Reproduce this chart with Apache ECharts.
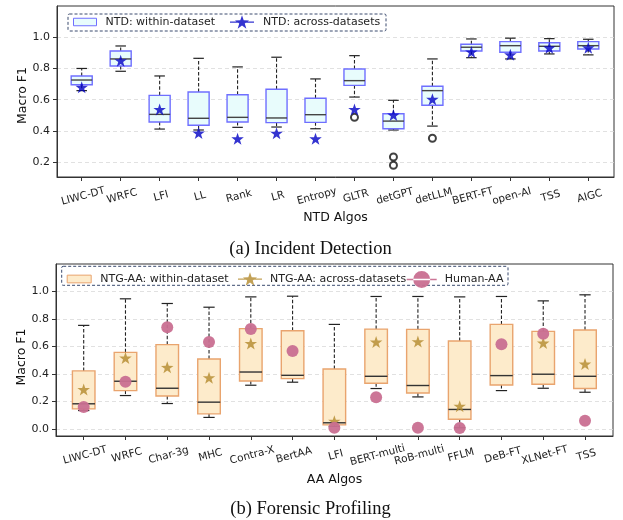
<!DOCTYPE html>
<html>
<head>
<meta charset="utf-8">
<script src="https://cdn.jsdelivr.net/npm/echarts@6/dist/echarts.min.js"></script>
<style>
html,body{margin:0;padding:0;background:#fff;}
#chart{width:623px;height:520px;}
</style>
</head>
<body>
<div id="chart"></div>
<script>
// ---------- data: (a) Incident Detection ----------
const ntdCategories = ['LIWC-DT','WRFC','LFI','LL','Rank','LR','Entropy','GLTR','detGPT','detLLM','BERT-FT','open-AI','TSS','AIGC'];
// [lower whisker, Q1, median, Q3, upper whisker]
const ntdBoxes = [
  [0.658, 0.696, 0.726, 0.752, 0.800],
  [0.782, 0.816, 0.861, 0.912, 0.944],
  [0.412, 0.457, 0.506, 0.628, 0.752],
  [0.406, 0.436, 0.481, 0.649, 0.865],
  [0.423, 0.457, 0.487, 0.632, 0.810],
  [0.425, 0.453, 0.483, 0.667, 0.872],
  [0.414, 0.455, 0.504, 0.609, 0.733],
  [0.617, 0.692, 0.722, 0.797, 0.882],
  [0.406, 0.414, 0.463, 0.510, 0.596],
  [0.431, 0.564, 0.658, 0.686, 0.861],
  [0.869, 0.912, 0.936, 0.955, 0.989],
  [0.861, 0.904, 0.946, 0.972, 0.994],
  [0.893, 0.912, 0.942, 0.965, 0.991],
  [0.887, 0.925, 0.946, 0.972, 0.987]
];
const ntdAcross = [0.680, 0.850, 0.538, 0.387, 0.350, 0.385, 0.350, 0.538, 0.502, 0.603, 0.906, 0.888, 0.933, 0.933];
const ntdOutliers = [['GLTR', 0.487], ['detGPT', 0.233], ['detGPT', 0.180], ['detLLM', 0.353]];
const ntdYTicks = [0.2, 0.4, 0.6, 0.8, 1.0];

// ---------- data: (b) Forensic Profiling ----------
const aaCategories = ['LIWC-DT','WRFC','Char-3g','MHC','Contra-X','BertAA','LFI','BERT-multi','RoB-multi','FFLM','DeB-FT','XLNet-FT','TSS'];
const aaBoxes = [
  [0.135, 0.147, 0.184, 0.423, 0.754],
  [0.244, 0.280, 0.348, 0.558, 0.947],
  [0.186, 0.241, 0.297, 0.614, 0.913],
  [0.085, 0.111, 0.196, 0.510, 0.886],
  [0.319, 0.350, 0.415, 0.730, 0.961],
  [0.341, 0.367, 0.391, 0.715, 0.966],
  [0.020, 0.031, 0.046, 0.437, 0.761],
  [0.295, 0.333, 0.384, 0.727, 0.964],
  [0.234, 0.263, 0.317, 0.725, 0.964],
  [0.010, 0.072, 0.143, 0.640, 0.961],
  [0.280, 0.321, 0.389, 0.761, 0.964],
  [0.297, 0.326, 0.399, 0.710, 0.932],
  [0.268, 0.295, 0.384, 0.720, 0.976]
];
const aaAcross = [0.288, 0.517, 0.449, 0.374, 0.623, null, 0.058, 0.633, 0.636, 0.167, null, 0.626, 0.473];
const humanAA = [0.160, 0.345, 0.741, 0.633, 0.727, 0.568, 0.010, 0.232, 0.010, 0.008, 0.616, 0.693, 0.060];
const aaYTicks = [0.0, 0.2, 0.4, 0.6, 0.8, 1.0];

// ---------- styling helpers ----------
const STAR = 'path://M12 0 L13.7 5.05 L19.04 5.11 L14.76 8.3 L16.35 13.39 L12 10.3 L7.65 13.39 L9.24 8.3 L4.96 5.11 L10.3 5.05 Z';
const STAR_LINE = 'path://M0 6.1 L24 6.1 L24 7.5 L0 7.5 Z M12 0 L13.7 5.05 L19.04 5.11 L14.76 8.3 L16.35 13.39 L12 10.3 L7.65 13.39 L9.24 8.3 L4.96 5.11 L10.3 5.05 Z';
const CIRCLE_LINE = 'path://M0 7.8 L30 7.8 L30 9.2 L0 9.2 Z M6.5 8.5 A8.5 8.5 0 1 0 23.5 8.5 A8.5 8.5 0 1 0 6.5 8.5 Z';

function boxRenderer(fill, edge, medianColor) {
  return function (params, api) {
    const x = api.value(0);
    const pLow = api.coord([x, api.value(1)]);
    const pQ1 = api.coord([x, api.value(2)]);
    const pMed = api.coord([x, api.value(3)]);
    const pQ3 = api.coord([x, api.value(4)]);
    const pHigh = api.coord([x, api.value(5)]);
    const unit = api.size([1, 0])[0];
    const hw = unit * 0.27, cw = unit * 0.135;
    const cx = pMed[0];
    const wStyle = {stroke: '#222', lineWidth: 1.1, lineDash: [3.5, 2]};
    const cStyle = {stroke: '#222', lineWidth: 1.2};
    return {
      type: 'group',
      children: [
        {type: 'line', shape: {x1: cx, y1: pQ3[1], x2: cx, y2: pHigh[1]}, style: wStyle},
        {type: 'line', shape: {x1: cx, y1: pQ1[1], x2: cx, y2: pLow[1]}, style: wStyle},
        {type: 'line', shape: {x1: cx - cw, y1: pHigh[1], x2: cx + cw, y2: pHigh[1]}, style: cStyle},
        {type: 'line', shape: {x1: cx - cw, y1: pLow[1], x2: cx + cw, y2: pLow[1]}, style: cStyle},
        {type: 'rect', shape: {x: cx - hw, y: pQ3[1], width: 2 * hw, height: pQ1[1] - pQ3[1]},
          style: {fill: fill, stroke: edge, lineWidth: 1.4}},
        {type: 'line', shape: {x1: cx - hw, y1: pMed[1], x2: cx + hw, y2: pMed[1]},
          style: {stroke: medianColor, lineWidth: 1.4}}
      ]
    };
  };
}

const axisColor = '#333';
const tickLabelColor = '#222';

function xAxisCfg(gridIndex, min, max, cats, name, nameGap) {
  // a placeholder first value (at the axis minimum) absorbs the min-label overlap rule
  const idx = [min].concat(cats.map((c, i) => i));
  return {
    type: 'value', gridIndex: gridIndex, min: min, max: max,
    name: name, nameLocation: 'middle', nameGap: nameGap, nameMoveOverlap: false,
    nameTextStyle: {fontFamily: 'DejaVu Sans', fontSize: 12.5, color: '#111'},
    axisLine: {show: true, onZero: false, lineStyle: {color: axisColor, width: 1}},
    axisTick: {show: true, length: 4, customValues: idx, lineStyle: {color: axisColor}},
    axisLabel: {
      customValues: idx, rotate: 15, align: 'center', verticalAlign: 'top', margin: 14,
      showMinLabel: false, showMaxLabel: true,
      fontFamily: 'DejaVu Sans', fontSize: 10.5, color: tickLabelColor,
      formatter: v => (v < -0.1 ? ' ' : cats[Math.round(v)])
    },
    splitLine: {show: false}
  };
}
function yAxisCfg(gridIndex, min, max, ticks, padRight) {
  return {
    type: 'value', gridIndex: gridIndex, min: min, max: max,
    name: 'Macro F1', nameLocation: 'middle', nameGap: 28, nameMoveOverlap: false,
    nameTextStyle: {fontFamily: 'DejaVu Sans', fontSize: 12.5, color: '#111', padding: [0, padRight, 0, 0]},
    axisLine: {show: true, onZero: false, lineStyle: {color: axisColor, width: 1}},
    axisTick: {show: true, length: 4, customValues: ticks, lineStyle: {color: axisColor}},
    axisLabel: {
      customValues: ticks, margin: 7,
      fontFamily: 'DejaVu Sans', fontSize: 11, color: tickLabelColor,
      formatter: v => Number(v).toFixed(1)
    },
    splitLine: {show: true, lineStyle: {color: '#d9d9d9', width: 0.8, type: [4, 3]}}
  };
}

const topBoxColor = {fill: '#e8fcfc', edge: '#6f6fff', median: '#444'};
const botBoxColor = {fill: '#fdebcb', edge: '#e9a46e', median: '#333'};
const topStarColor = '#0000c4';
const botStarColor = '#b38a2c';
const humanColor = '#c96f91';

const legendText = {fontFamily: 'DejaVu Sans', fontSize: 11, color: '#222', lineHeight: 14};

const option = {
  animation: false,
  backgroundColor: '#fff',
  grid: [
    {left: 57, top: 6, width: 557, height: 171, show: true, borderColor: axisColor, borderWidth: 1, backgroundColor: 'transparent'},
    {left: 56, top: 264, width: 557, height: 172, show: true, borderColor: axisColor, borderWidth: 1, backgroundColor: 'transparent'}
  ],
  xAxis: [
    xAxisCfg(0, -0.634, 13.66, ntdCategories, 'NTD Algos', 34),
    xAxisCfg(1, -0.663, 12.67, aaCategories, 'AA Algos', 37)
  ],
  yAxis: [
    yAxisCfg(0, 0.105, 1.2, ntdYTicks, 8),
    yAxisCfg(1, -0.05, 1.2, aaYTicks, 14)
  ],
  legend: [
    {data: [{name: 'NTD: within-dataset', icon: 'rect',
        itemStyle: {color: topBoxColor.fill, borderColor: topBoxColor.edge, borderWidth: 1}}],
      left: 73, top: 15, padding: 0, itemWidth: 23, itemHeight: 7.5, textStyle: Object.assign({padding: [0, 0, 0, 4]}, legendText), selectedMode: false, z: 6},
    {data: [{name: 'NTD: across-datasets', icon: STAR_LINE, itemStyle: {color: topStarColor}}],
      left: 230, top: 15, padding: 0, itemWidth: 24, itemHeight: 13.4, textStyle: Object.assign({padding: [0, 0, 0, 4]}, legendText), selectedMode: false, z: 6},
    {data: [{name: 'NTG-AA: within-dataset', icon: 'rect',
        itemStyle: {color: botBoxColor.fill, borderColor: botBoxColor.edge, borderWidth: 1}}],
      left: 66.7, top: 272, padding: 0, itemWidth: 24, itemHeight: 7.7, textStyle: Object.assign({padding: [0, 0, 0, 4]}, legendText), selectedMode: false, z: 6},
    {data: [{name: 'NTG-AA: across-datasets', icon: STAR_LINE, itemStyle: {color: botStarColor}}],
      left: 238, top: 272, padding: 0, itemWidth: 24, itemHeight: 13.4, textStyle: Object.assign({padding: [0, 0, 0, 3]}, legendText), selectedMode: false, z: 6},
    {data: [{name: 'Human-AA', icon: CIRCLE_LINE, itemStyle: {color: humanColor, opacity: 0.95}}],
      left: 406.7, top: 271, padding: 0, itemWidth: 30, itemHeight: 17, textStyle: Object.assign({padding: [0, 0, 0, 3]}, legendText), selectedMode: false, z: 6}
  ],
  graphic: [
    {type: 'rect', z: 5, shape: {x: 68, y: 14, width: 318, height: 17, r: 1.5},
      style: {fill: 'rgba(255,255,255,0.85)', stroke: '#3a4a6e', lineWidth: 1, lineDash: [3, 2]}},
    {type: 'rect', z: 5, shape: {x: 61.7, y: 266.3, width: 446.3, height: 19, r: 1.5},
      style: {fill: 'rgba(255,255,255,0.85)', stroke: '#3a4a6e', lineWidth: 1, lineDash: [3, 2]}},
    {type: 'text', z: 5, x: 310.5, y: 249,
      style: {text: '(a) Incident Detection', fontFamily: 'Liberation Serif', fontSize: 18.5, fill: '#111', textAlign: 'center', textVerticalAlign: 'middle'}},
    {type: 'text', z: 5, x: 310.5, y: 509,
      style: {text: '(b) Forensic Profiling', fontFamily: 'Liberation Serif', fontSize: 18.5, fill: '#111', textAlign: 'center', textVerticalAlign: 'middle'}}
  ],
  series: [
    {
      name: 'NTD: within-dataset', type: 'custom', xAxisIndex: 0, yAxisIndex: 0, z: 2,
      renderItem: boxRenderer(topBoxColor.fill, topBoxColor.edge, topBoxColor.median),
      encode: {x: 0, y: [1, 2, 3, 4, 5]},
      itemStyle: {color: topBoxColor.fill},
      data: ntdBoxes.map((b, i) => [i].concat(b))
    },
    {
      name: 'ntd-outliers', type: 'scatter', xAxisIndex: 0, yAxisIndex: 0, z: 3,
      symbol: 'emptyCircle', symbolSize: 7,
      itemStyle: {color: '#111', borderColor: '#111', borderWidth: 1.1},
      data: ntdOutliers.map(o => [ntdCategories.indexOf(o[0]), o[1]])
    },
    {
      name: 'NTD: across-datasets', type: 'scatter', xAxisIndex: 0, yAxisIndex: 0, z: 4,
      symbol: STAR, symbolSize: [12.5, 12],
      itemStyle: {color: topStarColor},
      data: ntdAcross.map((v, i) => [i, v])
    },
    {
      name: 'NTG-AA: within-dataset', type: 'custom', xAxisIndex: 1, yAxisIndex: 1, z: 2,
      renderItem: boxRenderer(botBoxColor.fill, botBoxColor.edge, botBoxColor.median),
      encode: {x: 0, y: [1, 2, 3, 4, 5]},
      itemStyle: {color: botBoxColor.fill},
      data: aaBoxes.map((b, i) => [i].concat(b))
    },
    {
      name: 'NTG-AA: across-datasets', type: 'scatter', xAxisIndex: 1, yAxisIndex: 1, z: 3,
      symbol: STAR, symbolSize: [12.5, 12],
      itemStyle: {color: botStarColor},
      data: aaAcross.map((v, i) => [i, v]).filter(d => d[1] !== null)
    },
    {
      name: 'Human-AA', type: 'scatter', xAxisIndex: 1, yAxisIndex: 1, z: 4,
      symbol: 'circle', symbolSize: 12,
      itemStyle: {color: humanColor, opacity: 0.95},
      data: humanAA.map((v, i) => [i, v])
    }
  ]
};

const chart = echarts.init(document.getElementById('chart'), null, {renderer: 'canvas'});
chart.setOption(option);
</script>
</body>
</html>
